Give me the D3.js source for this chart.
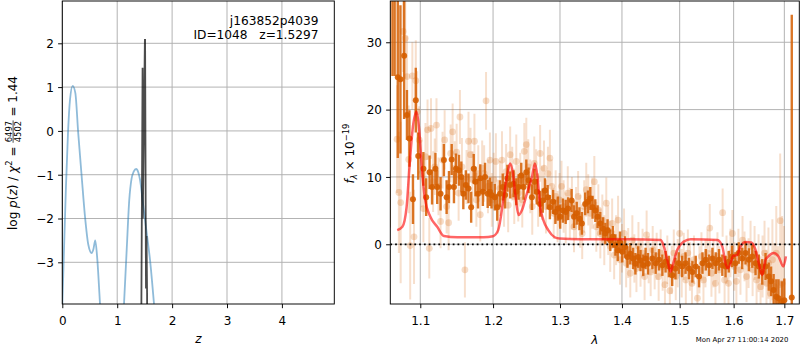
<!DOCTYPE html>
<html>
<head>
<meta charset="utf-8">
<script src="https://cdn.jsdelivr.net/npm/d3@7"></script>
<style>
body { margin: 0; background: #fff; }
svg text { font-family: "DejaVu Sans", sans-serif; white-space: pre; }
</style>
</head>
<body>
<script>
// ---- left panel: log p(z)
const zTicks = [0, 1, 2, 3, 4];
const logpTicks = [-3, -2, -1, 0, 1, 2];
const pzBroadZ = [0.0, 0.031, 0.067, 0.104, 0.14, 0.189, 0.237, 0.29, 0.353, 0.413, 0.474, 0.535, 0.565, 0.60, 0.638, 0.687, 0.72,
                  1.10, 1.124, 1.173, 1.22, 1.26, 1.30, 1.345, 1.385, 1.415, 1.476, 1.537, 1.597, 1.67, 1.70];
const pzBroadLog = [-4.0, -2.71, -1.26, -0.04, 0.71, 1.03, 0.87, -0.05, -1.04, -1.95, -2.6, -2.79, -2.71, -2.5, -2.94, -3.95, -4.6,
                    -4.6, -3.95, -2.71, -1.57, -1.1, -0.93, -0.87, -0.95, -1.11, -1.72, -2.33, -2.94, -3.95, -4.4];
const pzFineZ = [1.432, 1.462, 1.466, 1.504, 1.508, 1.524, 1.534, 1.544, 1.548];
const pzFineLog = [-6.0, 1.44, -2.0, 2.08, 2.08, -3.6, -2.4, -3.7, -6.0];

// ---- right panel: spectrum
const waveTicks = [1.1, 1.2, 1.3, 1.4, 1.5, 1.6, 1.7];
const fluxTicks = [0, 10, 20, 30];

const lightWave = [1.0699,1.0722,1.0745,1.0777,1.0804,1.0827,1.0849,1.0868,1.0896,1.0918,
  1.0941,1.0959,1.0986,1.1014,1.1041,1.1068,1.1096,1.1119,1.1142,1.1170,
  1.1192,1.1215,1.1242,1.1270,1.1297,1.1325,1.1352,1.1379,1.1407,1.1434,
  1.1462,1.1489,1.1516,1.1534,1.1562,1.1603,1.1626,1.1653,1.1681,1.1708,
  1.1736,1.1763,1.1790,1.1818,1.1845,1.1873,1.1900,1.1927,1.1955,1.1982,
  1.2010,1.2040,1.2070,1.2100,1.2129,1.2159,1.2189,1.2219,1.2248,1.2278,
  1.2308,1.2338,1.2367,1.2397,1.2427,1.2457,1.2487,1.2516,1.2546,1.2576,
  1.2606,1.2635,1.2665,1.2695,1.2725,1.2754,1.2784,1.2814,1.2844,1.2873,
  1.2903,1.2933,1.2963,1.2993,1.3024,1.3057,1.3089,1.3122,1.3154,1.3187,
  1.3220,1.3252,1.3285,1.3317,1.3350,1.3382,1.3415,1.3447,1.3480,1.3512,
  1.3545,1.3577,1.3610,1.3642,1.3675,1.3707,1.3740,1.3772,1.3805,1.3837,
  1.3870,1.3902,1.3935,1.3967,1.4000,1.4035,1.4070,1.4105,1.4140,1.4175,
  1.4209,1.4244,1.4279,1.4314,1.4349,1.4384,1.4419,1.4454,1.4489,1.4524,
  1.4558,1.4593,1.4628,1.4663,1.4698,1.4738,1.4780,1.4825,1.4860,1.4895,
  1.4930,1.4965,1.5000,1.5037,1.5074,1.5111,1.5148,1.5185,1.5222,1.5259,
  1.5322,1.5359,1.5396,1.5433,1.5470,1.5507,1.5550,1.5581,1.5619,1.5656,
  1.5693,1.5730,1.5791,1.5828,1.5865,1.5902,1.5939,1.5976,1.6014,1.6053,
  1.6092,1.6131,1.6171,1.6210,1.6249,1.6288,1.6327,1.6367,1.6406,1.6445,
  1.6484,1.6524,1.6563,1.6602,1.6641,1.6680,1.6720,1.6759,1.6798,1.6837,
  1.6876,1.6916,1.6955,1.6994];
const lightFlux = [15.6,7.7,6.2,31.6,30.6,24.9,12.6,-0.2,25.0,1.1,
  24.3,19.7,15.5,10.5,5.3,13.0,17.0,-0.6,17.2,9.3,
  11.5,17.7,8.6,3.4,12.5,15.5,5.6,3.2,13.5,16.7,
  11.3,13.7,7.6,18.9,11.5,-3.8,10.0,15.3,13.3,9.6,
  15.3,6.6,10.5,4.4,11.3,10.5,21.3,8.6,12.5,6.6,
  9.6,12.3,5.6,8.3,12.5,6.6,10.8,5.8,13.3,10.5,
  7.1,12.3,7.6,9.6,6.6,13.8,14.8,11.5,8.6,5.6,
  12.0,10.0,6.6,13.5,7.6,11.3,5.6,10.5,12.8,8.6,
  4.6,7.1,4.1,6.6,8.6,5.6,3.9,7.6,4.6,6.1,
  2.6,4.6,7.1,3.4,1.6,5.6,8.1,6.6,4.6,6.1,
  9.3,2.6,5.1,1.6,3.6,0.6,6.1,2.1,-0.3,3.1,
  -1.6,0.6,3.6,-2.3,-0.6,1.6,-2.8,-1.3,-4.3,0.6,
  -2.1,-3.6,-0.3,-2.8,-1.3,-4.8,1.4,-2.3,-4.1,-0.8,
  -3.1,-1.8,-4.8,-1.3,-3.3,-6.0,-2.3,-6.9,-3.8,-1.3,
  -4.8,-2.8,1.6,-4.3,-1.8,-5.3,-1.3,-3.3,-5.8,-2.3,
  -8.0,-3.8,-1.8,-5.3,-2.8,-1.3,2.4,-4.3,-2.8,-5.8,
  -1.8,-3.8,4.7,-5.3,-2.3,-5.8,-1.3,1.6,-3.3,-5.5,
  -1.3,-3.8,0.6,-1.8,-4.8,-2.8,-0.3,-3.8,-1.3,-5.3,
  -2.8,-6.3,-3.3,-1.3,-5.8,-2.8,-7.3,-2.3,-6.3,-1.3,
  -8.3,3.5,-5.8,-9.3];
const lightErr = [8,9,12,6,6,6,8,8,5,7,
  6,6,5,5,5,5,4.5,4.5,4.5,4.5,
  4.2,4.0,4.3,4.0,4.2,4.4,4.0,4.1,4.3,4.2,
  4.0,4.2,4.1,4.0,4.3,4.1,4.0,4.4,4.0,4.2,
  4.1,4.0,4.2,4.0,4.1,4.2,4.3,4.0,4.1,4.0,
  4.0,4.2,4.0,4.1,4.3,4.0,4.1,4.0,4.2,4.0,
  4.1,4.0,4.2,4.0,4.1,4.2,4.0,4.1,4.0,4.2,
  4.0,4.1,4.0,4.2,4.0,4.1,4.0,4.0,4.2,4.0,
  3.8,3.9,3.8,4.0,3.8,3.9,3.8,4.0,3.8,3.9,
  3.8,3.9,3.8,3.9,3.8,3.9,4.0,3.8,3.9,3.8,
  3.8,3.7,3.8,3.7,3.8,3.7,3.8,3.7,3.8,3.7,
  3.6,3.7,3.6,3.7,3.6,3.7,3.6,3.7,3.6,3.7,
  3.6,3.5,3.6,3.5,3.6,3.5,3.6,3.5,3.6,3.5,
  3.6,3.5,3.6,3.5,3.6,3.5,3.6,3.5,3.6,3.5,
  3.5,3.6,3.5,3.6,3.5,3.6,3.5,3.6,3.5,3.6,
  3.6,3.5,3.6,3.5,3.6,3.5,3.6,3.5,3.6,3.5,
  3.6,3.5,3.6,3.5,3.6,3.5,3.6,3.5,3.6,3.5,
  3.6,3.7,3.6,3.7,3.8,3.7,3.8,3.9,4.0,4.2,
  4.3,4.5,4.6,4.8,5.0,5.3,5.6,6.0,6.5,7.0,
  8.0,10.0,10.0,12.0];

const binWave = [1.0601,1.0640,1.0668,1.0708,1.0742,1.0790,1.0826,1.0858,1.0904,1.0941,1.0973,
  1.1041,1.1078,1.1123,1.1156,1.1201,1.1225,1.1270,1.1315,1.1352,1.1384,
  1.1421,1.1452,1.1479,1.1521,1.1553,1.1581,1.1616,1.1653,1.1690,1.1726,
  1.1749,1.1786,1.1818,1.1855,1.1886,1.1923,1.1955,1.1978,1.2025,1.2060,
  1.2100,1.2140,1.2174,1.2208,1.2249,1.2298,1.2338,1.2372,1.2412,1.2446,
  1.2487,1.2521,1.2571,1.2610,1.2646,1.2695,1.2735,1.2769,1.2809,1.2844,
  1.2893,1.2929,1.2967,1.3003,1.3046,1.3089,1.3127,1.3182,1.3220,1.3263,
  1.3306,1.3345,1.3398,1.3442,1.3480,1.3517,1.3561,1.3598,1.3642,1.3686,
  1.3724,1.3761,1.3805,1.3849,1.3891,1.3930,1.3967,1.4005,1.4052,1.4092,
  1.4140,1.4187,1.4227,1.4274,1.4314,1.4361,1.4401,1.4442,
  1.4518,1.4576,1.4634,1.4693,1.4750,1.4808,1.4867,1.4925,1.4983,1.5044,
  1.5106,1.5167,1.5230,1.5291,1.5352,1.5415,1.5476,1.5537,1.5600,1.5661,
  1.5722,1.5785,1.5846,1.5907,1.5970,1.6033,1.6098,1.6165,1.6229,1.6294,
  1.6361,1.6425,1.6490,1.6557,1.6622,1.6686,1.6733,1.6784,1.6837,1.6882,
  1.6949,1.7000,1.7152];
const binFlux = [40,38,37,24.8,24.5,28,19.2,15.7,6.7,21.4,13.1,
  11.2,7.0,10.7,8.5,11.2,8.5,7.5,12.5,7.0,8.5,
  12.6,8.5,11.2,11.0,10.0,7.5,8.8,8.3,5.5,11.2,
  9.3,7.5,9.8,7.8,10.0,7.5,7.8,7.3,7.0,5.5,
  7.5,8.5,7.3,9.8,8.8,9.0,7.8,8.5,10.2,8.5,
  10.7,9.5,7.0,9.3,7.8,6.0,6.5,8.0,7.0,5.5,
  6.3,4.8,5.3,4.1,5.0,4.8,5.3,6.5,4.1,4.6,
  3.8,3.1,6.0,6.3,6.8,5.5,5.0,4.1,3.1,2.3,
  1.6,2.1,0.6,1.1,-0.1,-0.9,0.3,-1.1,-0.4,-1.9,
  -1.4,-2.1,-2.9,-1.9,-2.4,-3.1,-2.1,-2.9,
  -2.1,-2.8,-2.3,-3.1,-2.6,-3.3,-4.6,-3.6,-2.8,-3.3,
  -2.8,-3.6,-4.1,-3.3,-4.8,-2.8,-2.3,-3.1,-2.1,-2.8,
  -2.3,-3.1,-3.3,-2.6,-1.8,-2.8,-1.3,-2.1,-1.3,-2.3,
  -1.8,-2.8,-3.3,-4.1,-3.3,-4.8,-5.5,-6.8,-7.8,-8.0,
  -8.5,-8.3,-7.9];
const binErr = [37.5,13,12,12,11,9.4,3.7,4.2,3.7,4.8,3.5,
  2.5,2.8,2.5,2.6,2.4,2.5,2.5,2.4,2.5,2.4,
  2.3,2.4,2.3,2.3,2.3,2.3,2.2,2.2,2.3,2.2,
  2.2,2.2,2.1,2.1,2.1,2.1,2.1,2.0,2.0,2.0,
  2.0,2.0,2.0,2.0,2.0,2.0,2.0,1.9,1.9,1.9,
  1.9,1.9,1.9,1.9,1.9,1.9,1.8,1.8,1.8,1.8,
  1.8,1.8,1.8,1.8,1.8,1.8,1.7,1.7,1.7,1.7,
  1.7,1.7,1.7,1.7,1.7,1.7,1.7,1.7,1.7,1.7,
  1.6,1.6,1.6,1.6,1.6,1.6,1.6,1.6,1.6,1.6,
  1.6,1.6,1.6,1.6,1.6,1.6,1.6,1.6,
  1.6,1.6,1.6,1.6,1.6,1.6,1.6,1.6,1.6,1.6,
  1.6,1.6,1.6,1.6,1.6,1.6,1.6,1.6,1.6,1.6,
  1.6,1.6,1.6,1.6,1.6,1.6,1.6,1.6,1.7,1.7,
  1.7,1.8,1.8,1.9,2.0,2.1,2.2,2.4,2.6,2.8,
  3.0,3.2,42.0];

const modelWave = [1.0700,1.0767,1.0822,1.0859,1.0904,1.0951,1.0986,1.1019,1.1064,1.1133,1.1225,1.1315,1.1499,1.1863,
  1.2000,1.2074,1.2149,1.2208,1.2248,1.2289,1.2333,1.2372,1.2423,1.2497,1.2571,1.2616,1.2655,1.2695,1.2744,1.2819,
  1.2918,1.2993,1.3317,1.4139,1.4663,1.4721,1.4780,1.4838,1.4885,1.4955,1.5074,1.5198,1.5693,1.5785,1.5846,1.5889,
  1.5939,1.5989,1.6067,1.6131,1.6229,1.6341,1.6425,1.6490,1.6557,1.6622,1.6686,1.6784,1.6882,1.6980,1.7033];
const modelFlux = [2.1,2.6,5.6,11.5,17.5,19.7,17.0,11.5,6.6,4.1,2.6,1.23,1.05,1.05,
  1.2,2.1,6.6,10.5,12.0,10.5,6.6,4.35,5.1,7.6,10.0,12.0,10.0,5.6,3.6,2.1,
  1.05,0.84,0.74,0.74,0.64,-0.35,-2.3,-4.07,-2.83,-0.85,0.39,0.74,0.64,-0.35,-2.83,-3.57,
  -2.83,-1.74,-1.6,-0.35,0.34,0.25,-0.85,-2.83,-4.56,-2.3,-1.74,-1.3,-1.8,-3.3,-1.8];

// ---- layout
const W = 800, H = 350;
const PT = 1.2; // px per point
const fs = 12;
const orange = "#D55E00";

const svg = d3.select("body").append("svg")
    .attr("width", W)
    .attr("height", H);

const boxL = { x0: 62.3, x1: 334.3, y0: 1, y1: 304 };
const boxR = { x0: 390.3, x1: 799.3, y0: 1, y1: 304 };

const xL = d3.scaleLinear().domain([0, 4.954]).range([boxL.x0, boxL.x1]);
const yL = d3.scaleLinear().domain([-3.952, 2.966]).range([boxL.y1, boxL.y0]);
const xR = d3.scaleLog().domain([1.06126, 1.7307]).range([boxR.x0, boxR.x1]);
const yR = d3.scaleLinear().domain([-8.87, 36.13]).range([boxR.y1, boxR.y0]);

function frame(box, x, y, xTicks, yTicks, xFmt, yFmt, id) {
    // grid
    const grid = svg.append("g");
    grid.selectAll(".gx").data(xTicks).enter().append("line")
        .attr("x1", d => x(d)).attr("x2", d => x(d))
        .attr("y1", box.y0).attr("y2", box.y1)
        .attr("stroke", "#b0b0b0").attr("stroke-width", 0.8 * PT);
    grid.selectAll(".gy").data(yTicks).enter().append("line")
        .attr("x1", box.x0).attr("x2", box.x1)
        .attr("y1", d => y(d)).attr("y2", d => y(d))
        .attr("stroke", "#b0b0b0").attr("stroke-width", 0.8 * PT);

    svg.append("clipPath").attr("id", id)
        .append("rect")
        .attr("x", box.x0).attr("y", box.y0)
        .attr("width", box.x1 - box.x0).attr("height", box.y1 - box.y0);

    // axes
    const ax = svg.append("g")
        .attr("transform", `translate(0,${box.y1})`)
        .call(d3.axisBottom(x).tickValues(xTicks).tickFormat(xFmt).tickSize(3.5 * PT).tickPadding(3.5 * PT));
    const ay = svg.append("g")
        .attr("transform", `translate(${box.x0},0)`)
        .call(d3.axisLeft(y).tickValues(yTicks).tickFormat(yFmt).tickSize(3.5 * PT).tickPadding(3.5 * PT));
    [ax, ay].forEach(a => {
        a.select(".domain").remove();
        a.selectAll("line").attr("stroke", "black").attr("stroke-width", 0.8 * PT);
        a.selectAll("text").attr("font-size", fs).attr("fill", "black")
            .attr("font-family", "DejaVu Sans");
    });
    ax.selectAll("text").attr("y", 20.5).attr("dy", 0);
    ay.selectAll("text").attr("dy", "0.36em");

    return svg.append("g").attr("clip-path", `url(#${id})`);
}

function spines(box) {
    svg.append("rect")
        .attr("x", box.x0).attr("y", box.y0)
        .attr("width", box.x1 - box.x0).attr("height", box.y1 - box.y0)
        .attr("fill", "none").attr("stroke", "black").attr("stroke-width", 0.8 * PT);
}

// ---- left panel
const plotL = frame(boxL, xL, yL, zTicks, logpTicks, d3.format("d"), d3.format("d"), "clipL");

const broad = pzBroadZ.map((z, i) => [z, pzBroadLog[i]]);
plotL.append("path")
    .datum(broad)
    .attr("fill", "none")
    .attr("stroke", "#1f77b4")
    .attr("stroke-opacity", 0.5)
    .attr("stroke-width", 1.5 * PT)
    .attr("d", d3.line().x(d => xL(d[0])).y(d => yL(d[1])).curve(d3.curveMonotoneX));

const fine = pzFineZ.map((z, i) => [z, pzFineLog[i]]);
plotL.append("path")
    .datum(fine)
    .attr("fill", "none")
    .attr("stroke", "black")
    .attr("stroke-opacity", 0.7)
    .attr("stroke-width", 1.5 * PT)
    .attr("d", d3.line().x(d => xL(d[0])).y(d => yL(d[1])));

spines(boxL);

svg.append("text").attr("x", 318.5).attr("y", 24.8).attr("text-anchor", "end")
    .attr("font-size", 12.2).text("j163852p4039");
svg.append("text").attr("x", 318.5).attr("y", 38.8).attr("text-anchor", "end")
    .attr("font-size", 12.2).text("ID=1048   z=1.5297");

svg.append("text").attr("x", (boxL.x0 + boxL.x1) / 2).attr("y", 343)
    .attr("text-anchor", "middle").attr("font-size", fs).attr("font-style", "italic").text("z");

// y label with fraction
const yl = svg.append("g");
const t1 = yl.append("text").attr("font-size", fs).attr("x", 0).attr("y", 0);
t1.append("tspan").text("log ");
t1.append("tspan").attr("font-style", "italic").text("p");
t1.append("tspan").text("(");
t1.append("tspan").attr("font-style", "italic").text("z");
t1.append("tspan").text(") / ");
t1.append("tspan").attr("font-style", "italic").text("χ");
t1.append("tspan").attr("font-size", 8.4).attr("dy", -4.6).text("2");
t1.append("tspan").attr("dy", 4.6).text(" = ");
const w1 = t1.node().getComputedTextLength();
const num = yl.append("text").attr("font-size", 8.4).attr("text-anchor", "middle").attr("y", -5).text("6497");
const den = yl.append("text").attr("font-size", 8.4).attr("text-anchor", "middle").attr("y", 4.2).text("4502");
const fw = Math.max(num.node().getComputedTextLength(), den.node().getComputedTextLength()) + 1;
num.attr("x", w1 + fw / 2);
den.attr("x", w1 + fw / 2);
yl.append("line").attr("x1", w1).attr("x2", w1 + fw).attr("y1", -3.4).attr("y2", -3.4)
    .attr("stroke", "black").attr("stroke-width", 0.7);
const t3 = yl.append("text").attr("font-size", fs).attr("x", w1 + fw).attr("y", 0).text(" = 1.44");
const totL = w1 + fw + t3.node().getComputedTextLength();
yl.attr("transform", `translate(16.5,${153 + totL / 2}) rotate(-90)`);

// ---- right panel
const plotR = frame(boxR, xR, yR, waveTicks, fluxTicks, d3.format(".1f"), d3.format("d"), "clipR");

const light = lightWave.map((w, i) => ({ w: w, f: lightFlux[i], e: lightErr[i] }));
const binned = binWave.map((w, i) => ({ w: w, f: binFlux[i], e: binErr[i] }));

plotR.append("g").selectAll("line").data(light).enter().append("line")
    .attr("x1", d => xR(d.w)).attr("x2", d => xR(d.w))
    .attr("y1", d => yR(d.f - d.e)).attr("y2", d => yR(d.f + d.e))
    .attr("stroke", orange).attr("stroke-opacity", 0.2).attr("stroke-width", 2);
plotR.append("g").selectAll("circle").data(light).enter().append("circle")
    .attr("cx", d => xR(d.w)).attr("cy", d => yR(d.f)).attr("r", 3.4)
    .attr("fill", orange).attr("fill-opacity", 0.22);

plotR.append("g").selectAll("line").data(binned).enter().append("line")
    .attr("x1", d => xR(d.w)).attr("x2", d => xR(d.w))
    .attr("y1", d => yR(d.f - d.e)).attr("y2", d => yR(d.f + d.e))
    .attr("stroke", orange).attr("stroke-opacity", 0.85).attr("stroke-width", 2.4);
plotR.append("g").selectAll("circle").data(binned).enter().append("circle")
    .attr("cx", d => xR(d.w)).attr("cy", d => yR(d.f)).attr("r", 3)
    .attr("fill", orange).attr("fill-opacity", 0.9);

const model = modelWave.map((w, i) => [w, modelFlux[i]]);
plotR.append("path")
    .datum(model)
    .attr("fill", "none")
    .attr("stroke", "red")
    .attr("stroke-opacity", 0.6)
    .attr("stroke-width", 2.5)
    .attr("stroke-linejoin", "round")
    .attr("d", d3.line().x(d => xR(d[0])).y(d => yR(d[1])).curve(d3.curveMonotoneX));

plotR.append("line")
    .attr("x1", boxR.x0).attr("x2", boxR.x1)
    .attr("y1", yR(0)).attr("y2", yR(0))
    .attr("stroke", "black").attr("stroke-width", 1.5 * PT)
    .attr("stroke-dasharray", `${1.5 * PT},${2.5 * PT}`);

spines(boxR);

svg.append("text").attr("x", (boxR.x0 + boxR.x1) / 2).attr("y", 343.5)
    .attr("text-anchor", "middle").attr("font-size", fs).attr("font-style", "italic").text("λ");

const yr = svg.append("text").attr("font-size", fs).attr("text-anchor", "middle")
    .attr("transform", "translate(354,153.5) rotate(-90)");
yr.append("tspan").attr("font-style", "italic").text("f");
yr.append("tspan").attr("font-size", 8.4).attr("font-style", "italic").attr("dy", 2.5).text("λ");
yr.append("tspan").attr("dy", -2.5).text(" × 10");
yr.append("tspan").attr("font-size", 8.4).attr("dy", -5).text("−19");

svg.append("text").attr("x", 788.3).attr("y", 342).attr("text-anchor", "end")
    .attr("font-size", 6.9).text("Mon Apr 27 11:00:14 2020");
</script>
</body>
</html>
